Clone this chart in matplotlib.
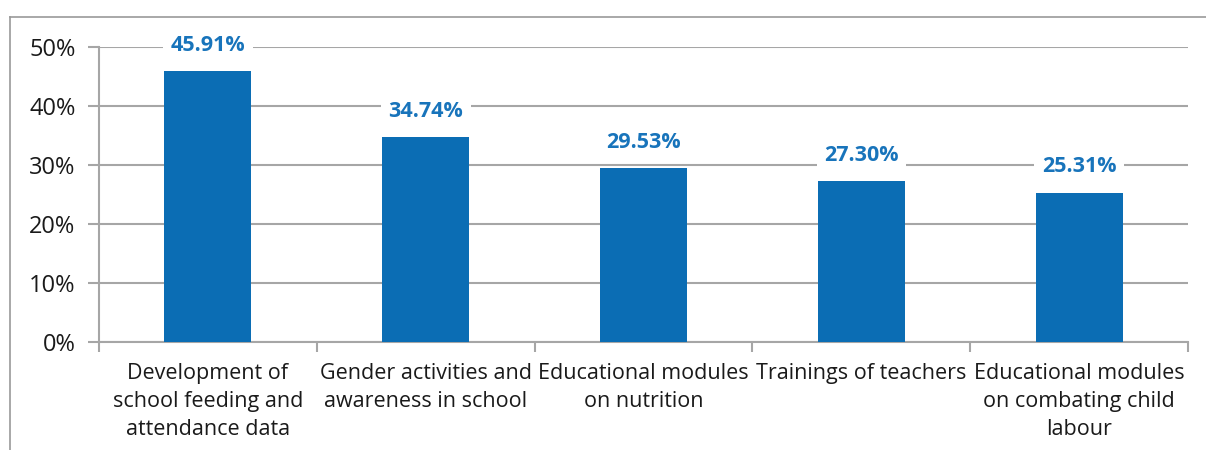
import matplotlib

matplotlib.use("Agg")
import matplotlib.pyplot as plt
from matplotlib.lines import Line2D
from matplotlib.ticker import FuncFormatter

plt.rcParams["font.family"] = ["Open Sans", "DejaVu Sans"]

categories = [
    "Development of\nschool feeding and\nattendance data",
    "Gender activities and\nawareness in school",
    "Educational modules\non nutrition",
    "Trainings of teachers",
    "Educational modules\non combating child\nlabour",
]
values = [45.91, 34.74, 29.53, 27.30, 25.31]
yticks = [0, 10, 20, 30, 40, 50]

BAR = "#0b6db4"
LABEL = "#1874bb"
GRID = "#a6a6a6"

fig = plt.figure(figsize=(12.06, 4.5), dpi=100)
ax = fig.add_axes([99 / 1206, 1 - 342 / 450, (1188 - 99) / 1206, (342 - 47) / 450])

x = range(len(categories))
ax.bar(x, values, width=0.4, color=BAR, zorder=3)
for i, v in zip(x, values):
    ax.annotate(f"{v:.2f}%", (i, v), xytext=(0, 18.5), textcoords="offset points",
                ha="center", va="center", fontsize=15.5, fontweight="bold",
                color=LABEL, zorder=4,
                bbox=dict(boxstyle="square,pad=0.35", fc="white", ec="none"))

ax.set_xlim(-0.5, len(categories) - 0.5)
ax.set_ylim(0, 50)
ax.set_yticks(yticks)
ax.yaxis.set_major_formatter(FuncFormatter(lambda v, _: f"{v:.0f}%"))
ax.grid(axis="y", color=GRID, linewidth=1.5, zorder=0)
ax.set_xticks(list(x))
ax.set_xticklabels(categories, fontsize=15.5, color="#1a1a1a", linespacing=1.45)
ax.set_xticks([i - 0.5 for i in range(len(categories) + 1)], minor=True)
ax.tick_params(axis="x", which="major", length=0, pad=15)
ax.tick_params(axis="x", which="minor", length=7, color=GRID, width=1.5)
ax.tick_params(axis="y", length=8, color=GRID, width=1.5, labelsize=17,
               labelcolor="#1a1a1a", pad=9)
for side in ("top", "right"):
    ax.spines[side].set_visible(False)
for side in ("left", "bottom"):
    ax.spines[side].set_color(GRID)
    ax.spines[side].set_linewidth(1.5)

# outer frame lines (top and left)
fig.add_artist(Line2D([10 / 1206, 1], [1 - 17 / 450, 1 - 17 / 450],
                      transform=fig.transFigure, color="#999999", linewidth=1.2))
fig.add_artist(Line2D([10 / 1206, 10 / 1206], [0, 1 - 17 / 450],
                      transform=fig.transFigure, color="#999999", linewidth=1.2))

fig.savefig("out.png", dpi=100)
